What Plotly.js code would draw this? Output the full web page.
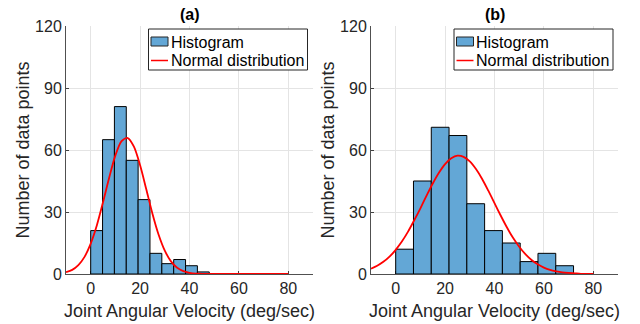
<!DOCTYPE html>
<html>
<head>
<meta charset="utf-8">
<script src="https://cdn.plot.ly/plotly-3.0.1.min.js"></script>
<style>
  html, body { margin: 0; padding: 0; background: #ffffff; }
  #chart { width: 640px; height: 324px; }
</style>
</head>
<body>
<div id="chart"></div>
<script>
// Histogram bin edges and counts for each panel
const leftEdges = [0, 4.8, 9.6, 14.4, 19.2, 24, 28.8, 33.6, 38.4, 43.2, 48];
const leftCounts = [21, 65, 81, 55, 36, 10, 5, 7, 4, 1];
const rightEdges = [0, 7.2, 14.4, 21.6, 28.8, 36, 43.2, 50.4, 57.6, 64.8, 72];
const rightCounts = [12, 45, 71, 67, 34, 21, 15, 6, 10, 4];

// Fitted normal curves, sampled along the velocity axis
const fitX = [-10, -7.5, -5, -2.5, 0, 2.5, 5, 7.5, 10, 12.5, 15, 17.5, 20, 22.5, 25, 27.5,
  30, 32.5, 35, 37.5, 40, 42.5, 45, 47.5, 50, 52.5, 55, 57.5, 60, 62.5, 65, 67.5,
  70, 72.5, 75, 77.5, 80];
const leftFit = [0.9, 2.0, 4.3, 8.3, 14.7, 23.6, 34.8, 46.7, 57.4, 64.3, 65.8, 61.6, 52.6,
  41.0, 29.2, 19.0, 11.3, 6.1, 3.0, 1.4, 0.6, 0.2, 0.1, 0, 0, 0, 0, 0, 0, 0, 0, 0,
  0, 0, 0, 0, 0];
const rightFit = [2.6, 4.0, 5.9, 8.4, 11.7, 15.7, 20.5, 26.0, 31.8, 37.9, 43.8, 49.0, 53.2,
  56.0, 57.3, 56.7, 54.5, 50.8, 46.0, 40.3, 34.3, 28.3, 22.6, 17.5, 13.2, 9.6, 6.8,
  4.7, 3.1, 2.0, 1.3, 0.8, 0.5, 0.3, 0.1, 0.1, 0.0];

const panelTitles = ['(a)', '(b)'];
const xTicks = [0, 20, 40, 60, 80];
const yTicks = [0, 30, 60, 90, 120];
const xTitle = 'Joint Angular Velocity (deg/sec)';
const yTitle = 'Number of data points';
const legendLabels = ['Histogram', 'Normal distribution'];

const W = 640, H = 324;
const FONT = 'Liberation Sans, Arial, Helvetica, sans-serif';
const TEXT = '#262626';
const BAR_FILL = 'rgb(99,167,214)';
const CURVE = '#ff0000';

function centers(edges) {
  return edges.slice(0, -1).map((e, i) => (e + edges[i + 1]) / 2);
}
function widths(edges) {
  return edges.slice(0, -1).map((e, i) => edges[i + 1] - e);
}

function barTrace(edges, counts, xa, ya) {
  return {
    type: 'bar', x: centers(edges), y: counts, width: widths(edges),
    xaxis: xa, yaxis: ya, showlegend: false, hoverinfo: 'skip',
    marker: { color: BAR_FILL, line: { color: '#000000', width: 1 } }
  };
}
function fitTrace(ys, xa, ya) {
  return {
    type: 'scatter', mode: 'lines', x: fitX, y: ys, xaxis: xa, yaxis: ya,
    showlegend: false, hoverinfo: 'skip',
    line: { color: CURVE, width: 1.8, shape: 'spline', smoothing: 0.8 }
  };
}

const data = [
  barTrace(leftEdges, leftCounts, 'x', 'y'),
  fitTrace(leftFit, 'x', 'y'),
  barTrace(rightEdges, rightCounts, 'x2', 'y2'),
  fitTrace(rightFit, 'x2', 'y2')
];

// pixel helpers for paper coordinates
const px = v => v / W;
const py = v => 1 - v / H;

const panels = [
  { x0: 66, x1: 313 },
  { x0: 371, x1: 618 }
];
const plotTop = 26, plotBottom = 274;

function xAxis(p, anchor) {
  return {
    domain: [px(p.x0), px(p.x1)], anchor: anchor, range: [-10, 90],
    tickvals: xTicks, ticks: 'inside', ticklen: 3, tickcolor: '#404040',
    showline: true, linecolor: '#505050', linewidth: 1,
    showgrid: true, gridcolor: '#e4e4e4', gridwidth: 1, zeroline: false,
    layer: 'below traces',
    tickfont: { family: FONT, size: 16, color: TEXT },
    title: { text: xTitle, font: { family: FONT, size: 18, color: TEXT }, standoff: 8 }
  };
}
function yAxis(anchor) {
  return {
    domain: [py(plotBottom), py(plotTop)], anchor: anchor, range: [0, 120],
    tickvals: yTicks, ticks: 'inside', ticklen: 3, tickcolor: '#404040',
    showline: true, linecolor: '#505050', linewidth: 1,
    showgrid: true, gridcolor: '#e4e4e4', gridwidth: 1, zeroline: false,
    layer: 'below traces',
    tickfont: { family: FONT, size: 16, color: TEXT },
    title: { text: yTitle, font: { family: FONT, size: 18, color: TEXT }, standoff: 0 }
  };
}

// hand-built legend boxes, one per panel
const shapes = [];
const annotations = [];
const legendLefts = [148.5, 454];
const legendW = 159, legendTop = 29, legendBottom = 70;
legendLefts.forEach(l => {
  shapes.push({
    type: 'rect', xref: 'paper', yref: 'paper',
    x0: px(l), x1: px(l + legendW), y0: py(legendBottom), y1: py(legendTop),
    fillcolor: '#ffffff', line: { color: '#262626', width: 1 }, layer: 'above'
  });
  shapes.push({
    type: 'rect', xref: 'paper', yref: 'paper',
    x0: px(l + 2.5), x1: px(l + 19.5), y0: py(46), y1: py(37),
    fillcolor: BAR_FILL, line: { color: '#262626', width: 1 }, layer: 'above'
  });
  shapes.push({
    type: 'line', xref: 'paper', yref: 'paper',
    x0: px(l + 2.5), x1: px(l + 19.5), y0: py(60.5), y1: py(60.5),
    line: { color: CURVE, width: 1.5 }, layer: 'above'
  });
  [42, 60.5].forEach((yc, i) => {
    annotations.push({
      xref: 'paper', yref: 'paper', x: px(l + 20), y: py(yc),
      xanchor: 'left', yanchor: 'middle', showarrow: false,
      text: legendLabels[i], font: { family: FONT, size: 16, color: '#000000' }
    });
  });
});

panels.forEach((p, i) => {
  annotations.push({
    xref: 'paper', yref: 'paper', x: px((p.x0 + p.x1) / 2), y: py(15),
    xanchor: 'center', yanchor: 'middle', showarrow: false,
    text: '<b>' + panelTitles[i] + '</b>',
    font: { family: FONT, size: 16, color: '#000000' }
  });
});

const layout = {
  width: W, height: H,
  margin: { l: 0, r: 0, t: 0, b: 0 },
  paper_bgcolor: '#ffffff', plot_bgcolor: '#ffffff',
  bargap: 0, barmode: 'overlay',
  xaxis: xAxis(panels[0], 'y'),
  yaxis: yAxis('x'),
  xaxis2: xAxis(panels[1], 'y2'),
  yaxis2: yAxis('x2'),
  shapes: shapes,
  annotations: annotations,
  font: { family: FONT, color: TEXT }
};

Plotly.newPlot('chart', data, layout, { displayModeBar: false, staticPlot: true });
</script>
</body>
</html>
